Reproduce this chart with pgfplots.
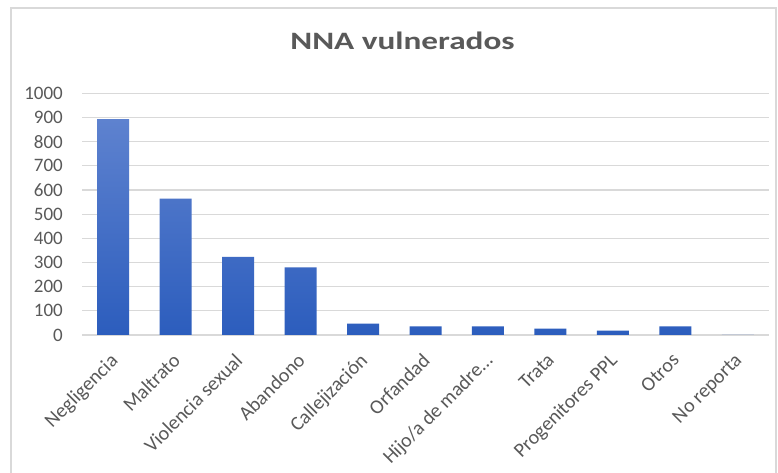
\documentclass[border=0pt]{standalone}
\usepackage{pgfplots}
\pgfplotsset{compat=1.18}
\usepackage{fontspec}
\setmainfont{Carlito}
\definecolor{txtgray}{HTML}{595959}
\definecolor{gridgray}{HTML}{D9D9D9}
\definecolor{bartop}{RGB}{94,130,207}
\definecolor{barbot}{RGB}{44,93,189}
\begin{document}
\begin{tikzpicture}[x=1pt,y=1pt]
\useasboundingbox (0,0) rectangle (778,473);
\fill[white] (0,0) rectangle (778,473);
\draw[gridgray, line width=1.3pt] (11,-10) -- (11,465) -- (776,465) -- (776,-10);
\node[anchor=base, text=txtgray, font=\bfseries\fontsize{25}{25}\selectfont] at (402.5,423) {\scalebox{1.33}[1]{NNA vulnerados}};
\begin{axis}[
  at={(82pt,138pt)}, anchor=south west,
  width=687pt, height=241.7pt, scale only axis,
  xmin=-0.5, xmax=10.5, ymin=0, ymax=1000,
  ytick={0,100,200,300,400,500,600,700,800,900,1000},
  xtick={0,1,2,3,4,5,6,7,8,9,10},
  xticklabels={Negligencia,Maltrato,Violencia sexual,Abandono,Callejización,Orfandad,{Hijo/a de madre\ldots},Trata,Progenitores PPL,Otros,No reporta},
  axis line style={draw=none},
  major tick length=0pt,
  ymajorgrids, grid style={gridgray, line width=1.2pt},
  /pgf/number format/1000 sep={},
  /pgf/number format/assume math mode=true,
  yticklabel style={font=\fontsize{19}{19}\selectfont, text=txtgray, inner sep=0pt, anchor=east, xshift=-19pt},
  xticklabel style={font=\fontsize{20}{20}\selectfont, text=txtgray, inner sep=0pt, rotate=45, anchor=north east, xshift=-15pt, yshift=-9pt},
  ybar, bar width=32pt,
  clip=false,
]
\addplot[draw=none, top color=bartop, bottom color=barbot] coordinates {
(0,893) (1,564) (2,323) (3,280) (4,47) (5,36) (6,36) (7,26) (8,18) (9,36) (10,1)
};
\end{axis}
\end{tikzpicture}
\end{document}
